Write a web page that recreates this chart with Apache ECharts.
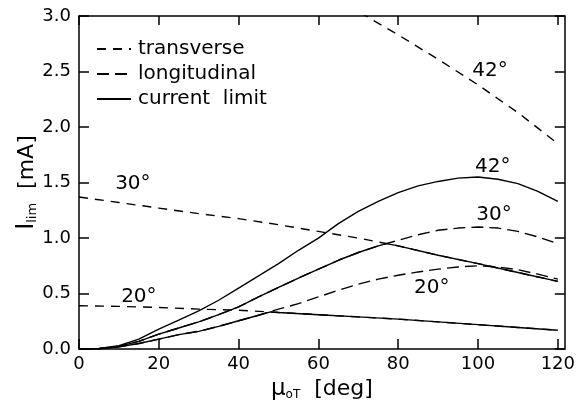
<!DOCTYPE html>
<html>
<head>
<meta charset="utf-8">
<script src="https://cdn.jsdelivr.net/npm/echarts@6/dist/echarts.min.js"></script>
<style>
html,body{margin:0;padding:0;background:#fff;}
#c{width:578px;height:406px;}
</style>
</head>
<body>
<div id="c"></div>
<script>
// ---- data ----
const xLong = [0,5,10,15,20,25,30,35,40,45,50,55,60,65,70,75,80,85,90,95,100,105,110,115,120];
const long20 = [0,0.003,0.02,0.05,0.09,0.13,0.16,0.205,0.255,0.305,0.36,0.41,0.47,0.53,0.585,0.63,0.665,0.695,0.72,0.74,0.75,0.74,0.715,0.675,0.63];
const long30 = [0,0.004,0.025,0.07,0.135,0.19,0.245,0.31,0.38,0.47,0.555,0.64,0.72,0.80,0.87,0.93,0.98,1.03,1.07,1.09,1.10,1.09,1.06,1.01,0.95];
const long42 = [0,0.005,0.03,0.09,0.18,0.26,0.345,0.44,0.55,0.66,0.77,0.89,1.00,1.13,1.24,1.33,1.41,1.47,1.51,1.54,1.55,1.53,1.49,1.42,1.33];

const xTrans = [0,10,20,30,40,50,60,70,80,90,100,110,120];
const trans20 = [0.39,0.385,0.375,0.36,0.35,0.33,0.31,0.29,0.27,0.245,0.22,0.195,0.17];
const trans30 = [1.37,1.32,1.27,1.22,1.175,1.12,1.06,1.00,0.93,0.845,0.77,0.69,0.61];
const xTrans42 = [60,70,80,90,100,110,120];
const trans42 = [3.25,3.04,2.83,2.61,2.38,2.13,1.85];

// crossing points where the current limit switches from longitudinal to transverse
const cross20 = [48, 0.335];
const cross30 = [77, 0.95];

const xTicks = [0,20,40,60,80,100,120];
const angleLabels = [
  {name:'42°', value:[103.0, 2.51]},
  {name:'42°', value:[103.7, 1.645]},
  {name:'30°', value:[13.5, 1.49]},
  {name:'30°', value:[104.0, 1.21]},
  {name:'20°', value:[15.0, 0.475]},
  {name:'20°', value:[88.4, 0.555]}
];

// ---- build ----
const pairs = (xs, ys) => xs.map((x, i) => [x, ys[i]]);
const limitOf = (xl, yl, xt, yt, cross) =>
  pairs(xl, yl).filter(p => p[0] < cross[0])
    .concat([cross])
    .concat(pairs(xt, yt).filter(p => p[0] > cross[0]));

const FONT = 'DejaVu Sans';
const TRANS_DASH = [9, 7];
const LONG_DASH = [12, 6];
const LW = 1.4;

function lineSeries(name, data, dash, z) {
  return {
    name: name, type: 'line', data: data, showSymbol: false, symbol: 'none',
    smooth: false, clip: true, silent: true, z: z,
    itemStyle: {color: '#000'},
    lineStyle: {color: '#000', width: LW, type: dash}
  };
}

const series = [
  lineSeries('transverse', pairs(xTrans, trans20), TRANS_DASH, 2),
  lineSeries('transverse', pairs(xTrans, trans30), TRANS_DASH, 2),
  lineSeries('transverse', pairs(xTrans42, trans42), TRANS_DASH, 2),
  lineSeries('longitudinal', pairs(xLong, long20), LONG_DASH, 2),
  lineSeries('longitudinal', pairs(xLong, long30), LONG_DASH, 2),
  lineSeries('current limit', limitOf(xLong, long20, xTrans, trans20, cross20), 'solid', 3),
  lineSeries('current limit', limitOf(xLong, long30, xTrans, trans30, cross30), 'solid', 3),
  lineSeries('current limit', pairs(xLong, long42), 'solid', 3),
  {
    type: 'scatter', data: angleLabels, symbol: 'circle', symbolSize: 1, silent: true, z: 5,
    itemStyle: {color: 'rgba(0,0,0,0)', opacity: 1},
    label: {show: true, position: 'inside', formatter: p => p.name, opacity: 1,
            color: '#000', fontSize: 20, fontFamily: FONT}
  }
];

const axisLineStyle = {color: '#000', width: 1.5};
const chart = echarts.init(document.getElementById('c'), null, {renderer: 'canvas'});
chart.setOption({
  animation: false,
  backgroundColor: '#fff',
  textStyle: {fontFamily: FONT, color: '#000'},
  grid: {left: 79, right: 13, top: 16, bottom: 49, containLabel: false},
  legend: {
    data: ['transverse', 'longitudinal', 'current limit'],
    orient: 'vertical', left: 91, top: 34,
    itemWidth: 34, itemHeight: 14, itemGap: 5,
    itemStyle: {opacity: 0},
    formatter: n => n === 'current limit' ? 'current  limit' : n,
    textStyle: {fontSize: 20, fontFamily: FONT, color: '#000', padding: [0, 0, 0, 2]},
    selectedMode: false
  },
  xAxis: [
    {
      type: 'value', min: 0, max: 121.75, interval: 20, position: 'bottom',
      axisLine: {show: true, onZero: false, lineStyle: axisLineStyle},
      axisTick: {show: true, inside: true, length: 10, customValues: xTicks, lineStyle: axisLineStyle},
      axisLabel: {show: true, customValues: xTicks, fontSize: 18, color: '#000', margin: 6, fontFamily: FONT,
                  formatter: v => (v % 20 === 0 ? String(v) : '')},
      splitLine: {show: false},
      name: '{m|μ}{s|oT}  [deg]',
      nameLocation: 'middle', nameGap: 21,
      nameTextStyle: {
        fontSize: 22, color: '#000', fontFamily: FONT,
        rich: {
          m: {fontSize: 23, fontFamily: FONT, color: '#000'},
          s: {fontSize: 12, fontFamily: FONT, color: '#000', verticalAlign: 'bottom', padding: [10, 0, 0, 0]}
        }
      }
    },
    {
      type: 'value', min: 0, max: 121.75, interval: 20, position: 'top',
      axisLine: {show: true, onZero: false, lineStyle: axisLineStyle},
      axisTick: {show: true, inside: true, length: 9, customValues: xTicks, lineStyle: axisLineStyle},
      axisLabel: {show: false},
      splitLine: {show: false}
    }
  ],
  yAxis: [
    {
      type: 'value', min: 0, max: 3, interval: 0.5, position: 'left',
      axisLine: {show: true, onZero: false, lineStyle: axisLineStyle},
      axisTick: {show: true, inside: true, length: 10, lineStyle: axisLineStyle},
      axisLabel: {show: true, fontSize: 18, color: '#000', margin: 8, fontFamily: FONT,
                  formatter: v => v.toFixed(1)},
      splitLine: {show: false},
      name: '{i|I}{s|lim}  [mA]',
      nameLocation: 'middle', nameRotate: 90, nameGap: 40, nameMoveOverlap: false,
      nameTextStyle: {
        fontSize: 22, color: '#000', fontFamily: FONT,
        rich: {
          i: {fontSize: 24, fontFamily: FONT, color: '#000'},
          s: {fontSize: 13, fontFamily: FONT, color: '#000', verticalAlign: 'bottom', padding: [10, 0, 0, 0]}
        }
      }
    },
    {
      type: 'value', min: 0, max: 3, interval: 0.5, position: 'right',
      axisLine: {show: true, onZero: false, lineStyle: axisLineStyle},
      axisTick: {show: true, inside: true, length: 10, lineStyle: axisLineStyle},
      axisLabel: {show: false},
      splitLine: {show: false}
    }
  ],
  series: series
});
</script>
</body>
</html>
